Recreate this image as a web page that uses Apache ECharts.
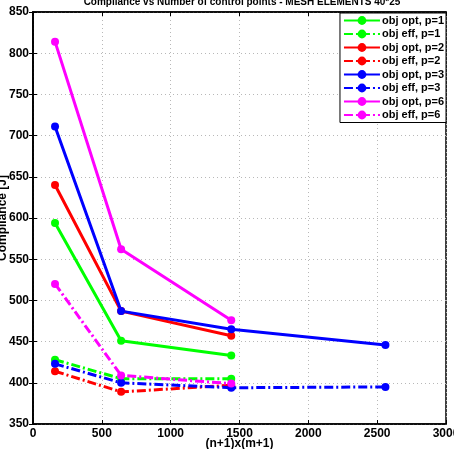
<!DOCTYPE html>
<html>
<head>
<meta charset="utf-8">
<script src="https://cdn.jsdelivr.net/npm/echarts@6/dist/echarts.min.js"></script>
<style>
  html, body { margin: 0; padding: 0; background: #fff; }
  #chart { width: 454px; height: 449px; }
</style>
</head>
<body>
<div id="chart"></div>
<script>
// control points (n+1)x(m+1)
const xPoints = [160, 640, 1440, 2560];

const optP1 = [594, 451, 433];
const effP1 = [428, 405, 405];
const optP2 = [640, 487, 457];
const effP2 = [414, 389, 397];
const optP3 = [711, 487, 465, 446];
const effP3 = [423, 400, 394, 395];
const optP6 = [814, 562, 476];
const effP6 = [520, 409, 399];

const xTicks = [0, 500, 1000, 1500, 2000, 2500, 3000];
const yTicks = [350, 400, 450, 500, 550, 600, 650, 700, 750, 800, 850];

const FONT = 'Liberation Sans';
const dashDot = [9, 3, 2, 3];

function pair(vals) {
    return vals.map((v, i) => [xPoints[i], v]);
}

function mkSeries(name, vals, color, dashed) {
    return {
        name: name,
        type: 'line',
        data: pair(vals),
        symbol: 'circle',
        symbolSize: 8,
        showSymbol: true,
        itemStyle: { color: color },
        lineStyle: { color: color, width: 3, type: dashed ? dashDot : 'solid' },
        emphasis: { disabled: true },
        z: dashed ? 3 : 2
    };
}

const chart = echarts.init(document.getElementById('chart'), null, { renderer: 'canvas' });

const axisBase = {
    axisLine: { show: true, lineStyle: { color: '#000', width: 1.5 } },
    axisTick: { show: true, inside: true, length: 4, lineStyle: { color: '#000' } },
    splitLine: { show: false }
};
const labelStyle = { fontFamily: FONT, fontSize: 12, fontWeight: 'bold', color: '#000' };
const gridLine = { show: true, lineStyle: { color: '#b8b8b8', type: [1, 3], width: 1 } };

const option = {
    animation: false,
    backgroundColor: '#fff',
    title: {
        text: 'Compliance vs Number of control points - MESH ELEMENTS 40*25',
        left: 237,
        textAlign: 'center',
        top: -8,
        textStyle: { fontFamily: FONT, fontSize: 10, fontWeight: 'bold', color: '#000' }
    },
    legend: {
        right: 8,
        top: 13,
        orient: 'vertical',
        itemGap: 2.5,
        itemWidth: 36,
        itemHeight: 11,
        padding: [2, 2, 2, 3],
        backgroundColor: '#fff',
        borderColor: '#000',
        borderWidth: 1,
        textStyle: { fontFamily: FONT, fontSize: 11, fontWeight: 'bold', color: '#000', padding: [0, 0, 0, -3] },
        data: ['obj opt, p=1', 'obj eff, p=1', 'obj opt, p=2', 'obj eff, p=2',
               'obj opt, p=3', 'obj eff, p=3', 'obj opt, p=6', 'obj eff, p=6']
    },
    grid: {
        left: 33, right: 8, top: 12, bottom: 25,
        outerBoundsMode: 'none',
        containLabel: false,
        show: true, borderColor: '#000', borderWidth: 1.5, backgroundColor: 'transparent'
    },
    xAxis: [
        Object.assign({}, axisBase, {
            type: 'value', min: xTicks[0], max: xTicks[xTicks.length - 1], interval: 500, position: 'bottom',
            name: '(n+1)x(m+1)', nameLocation: 'middle', nameGap: 14, nameMoveOverlap: false,
            nameTextStyle: labelStyle,
            axisLabel: Object.assign({ margin: 4, formatter: v => String(v) }, labelStyle),
            splitLine: gridLine
        }),
        Object.assign({}, axisBase, {
            type: 'value', min: xTicks[0], max: xTicks[xTicks.length - 1], interval: 500, position: 'top',
            axisLabel: { show: false }
        })
    ],
    yAxis: [
        Object.assign({}, axisBase, {
            type: 'value', min: yTicks[0], max: yTicks[yTicks.length - 1], interval: 50, position: 'left',
            name: 'Compliance [J]', nameLocation: 'middle', nameGap: 24, nameMoveOverlap: false,
            nameTextStyle: labelStyle,
            axisLabel: Object.assign({ margin: 4, formatter: v => String(v) }, labelStyle),
            splitLine: gridLine
        }),
        Object.assign({}, axisBase, {
            type: 'value', min: yTicks[0], max: yTicks[yTicks.length - 1], interval: 50, position: 'right',
            axisLabel: { show: false }
        })
    ],
    series: [
        mkSeries('obj opt, p=1', optP1, '#00ff00', false),
        mkSeries('obj eff, p=1', effP1, '#00ff00', true),
        mkSeries('obj opt, p=2', optP2, '#ff0000', false),
        mkSeries('obj eff, p=2', effP2, '#ff0000', true),
        mkSeries('obj opt, p=3', optP3, '#0000ff', false),
        mkSeries('obj eff, p=3', effP3, '#0000ff', true),
        mkSeries('obj opt, p=6', optP6, '#ff00ff', false),
        mkSeries('obj eff, p=6', effP6, '#ff00ff', true)
    ]
};

chart.setOption(option);
</script>
</body>
</html>
